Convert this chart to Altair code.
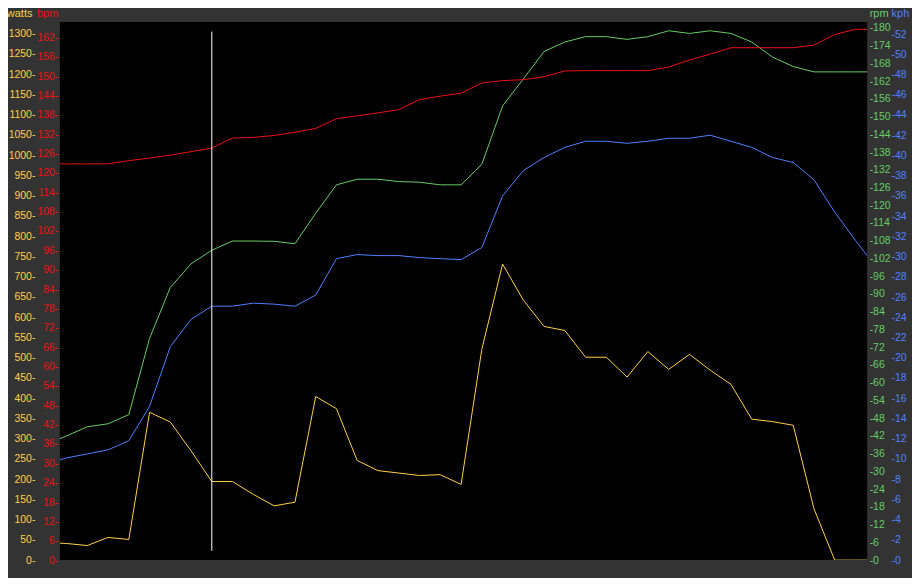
import altair as alt
import pandas as pd

# sample timestamps (seconds within minute 45)
times = [8.32, 9.58, 10.84, 12.10, 13.36, 14.62, 15.88, 17.14, 18.40, 19.66,
         20.93, 22.19, 23.45, 24.71, 25.97, 27.23, 28.49, 29.75, 31.01, 32.27,
         33.54, 34.80, 36.06, 37.32, 38.58, 39.84, 41.10, 42.36, 43.62, 44.88,
         46.15, 47.41, 48.67, 49.93, 51.19, 52.45, 53.71, 54.97, 56.23, 57.49,
         58.76]
watts = [44, 41, 36, 56, 51, 365, 341, 270, 194, 194,
         162, 134, 143, 404, 374, 246, 221, 215, 209, 211,
         187, 521, 731, 642, 577, 567, 501, 501, 452, 515,
         471, 508, 469, 434, 348, 342, 333, 127, 0, 0,
         0]
bpm = [122.8, 122.8, 122.8, 122.8, 123.8, 124.6, 125.5, 126.6, 127.7, 130.8,
       131.0, 131.6, 132.6, 133.8, 136.8, 137.7, 138.6, 139.6, 142.7, 143.8,
       144.7, 147.9, 148.6, 148.9, 149.8, 151.6, 151.7, 151.7, 151.7, 151.7,
       152.8, 155.0, 156.8, 158.8, 158.8, 158.8, 158.8, 159.6, 162.9, 164.5,
       164.5]
rpm = [39.0, 42.0, 45.1, 46.1, 49.2, 75.0, 92.2, 100.2, 104.8, 107.9,
       107.9, 107.8, 107.0, 117.3, 126.9, 128.8, 128.8, 128.0, 127.8, 126.9,
       126.9, 133.9, 153.6, 162.7, 172.0, 175.2, 177.0, 177.0, 176.1, 177.0,
       179.0, 178.1, 179.0, 178.1, 175.2, 170.1, 166.9, 165.1, 165.1, 165.1,
       165.1]
kph = [9.5, 10.1, 10.5, 10.9, 11.8, 15.2, 21.1, 23.8, 25.1, 25.1,
       25.4, 25.3, 25.1, 26.2, 29.8, 30.2, 30.1, 30.1, 29.9, 29.8,
       29.7, 30.9, 36.0, 38.5, 39.8, 40.8, 41.4, 41.4, 41.2, 41.4,
       41.7, 41.7, 42.0, 41.4, 40.8, 39.8, 39.3, 37.6, 34.4, 31.6,
       28.9]

x_ticks = [10, 15, 20, 25, 30, 35, 40, 45, 50, 55]
watts_ticks = list(range(0, 1301, 50))
bpm_ticks = list(range(0, 163, 6))
rpm_ticks = list(range(0, 181, 6))
kph_ticks = list(range(0, 53, 2))
cursor_time = [18.40]
cursor_span = [1305, 23]

df = pd.DataFrame({"t": times, "watts": watts, "bpm": bpm, "rpm": rpm, "kph": kph})
cur_df = pd.DataFrame({"t": cursor_time, "top": [cursor_span[0]], "bottom": [cursor_span[1]]})

FONT = "Liberation Sans"
YELLOW = "#ffd04a"
RED = "#ee1111"
GREEN = "#66cc66"
BLUE = "#5080ff"
W, H = 810, 540
YFS = 10.5

xscale = alt.Scale(domain=[9.17, 58.2], nice=False, zero=False)
x_axis = alt.Axis(values=x_ticks, labelExpr="'45:' + datum.value", labelColor="white",
                  labelFont=FONT, labelFontSize=12, tickColor="white", tickSize=3,
                  labelPadding=0, domain=False, grid=False, title=None,
                  labelFlush=False, labelOverlap=False)


def yaxis(orient, offset, ticks, color, title, pad, tx):
    expr = "datum.value + '-'" if orient == "left" else "'-' + datum.value"
    return alt.Axis(orient=orient, offset=offset, values=ticks, labelExpr=expr,
                    labelColor=color, labelFont=FONT, labelFontSize=YFS, ticks=False,
                    domain=False, grid=False, labelPadding=pad, labelBaseline="middle",
                    labelFlush=False, labelOverlap=False,
                    title=title, titleColor=color, titleFont=FONT, titleFontSize=11,
                    titleFontWeight="normal", titleAngle=0,
                    titleAlign="right" if orient == "left" else "left",
                    titleBaseline="alphabetic", titleX=tx, titleY=-5)


def line(field, color, axis, domain, show_x=False):
    return alt.Chart(df).mark_line(color=color, strokeWidth=1, clip=True).encode(
        x=alt.X("t:Q", scale=xscale, axis=x_axis if show_x else None),
        y=alt.Y(f"{field}:Q", scale=alt.Scale(domain=domain, nice=False, zero=True), axis=axis),
    )


l_watts = line("watts", YELLOW, yaxis("left", 24, watts_ticks, YELLOW, "watts", 1, -4), [0, 1329], True)
l_bpm = line("bpm", RED, yaxis("left", 0, bpm_ticks, RED, "bpm", 2, -2), [0, 166.8])
l_rpm = line("rpm", GREEN, yaxis("right", 0, rpm_ticks, GREEN, "rpm", 2, 2), [0, 182])
l_kph = line("kph", BLUE, yaxis("right", 23, kph_ticks, BLUE, "kph", 1, 1), [0, 53.2])

cursor = alt.Chart(cur_df).mark_rule(color="white", strokeWidth=1).encode(
    x=alt.X("t:Q", scale=xscale, axis=None),
    y=alt.Y("top:Q", scale=alt.Scale(domain=[0, 1329], nice=False), axis=None),
    y2="bottom:Q",
)

chart = alt.layer(l_watts, l_kph, l_rpm, l_bpm, cursor).resolve_scale(
    y="independent"
).properties(
    width=W, height=H, background="#333333",
    padding={"left": 52, "top": 13, "right": 45, "bottom": 17},
    autosize=alt.AutoSizeParams(type="none"),
).configure_view(fill="black", stroke=None)

chart.save("out.html", embed_options={"renderer": "svg", "actions": False})
